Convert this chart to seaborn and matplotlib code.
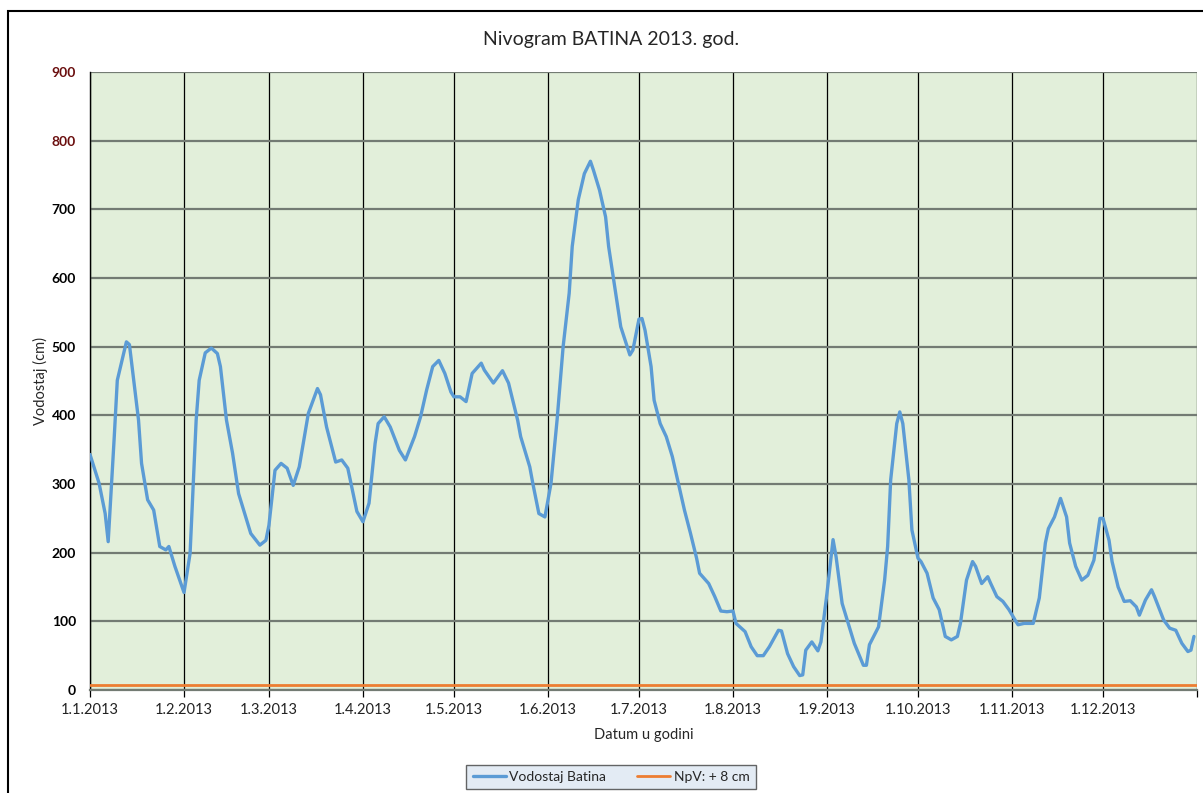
import matplotlib
matplotlib.use("Agg")
import matplotlib.pyplot as plt
import matplotlib.dates as mdates
from matplotlib.patches import Rectangle
import numpy as np
import pandas as pd
import seaborn as sns

# ---- data ----
day_offsets = [0, 3, 5, 6, 8, 9, 12, 13, 16, 17, 19, 21, 23, 25, 26, 28, 31, 33, 35, 36,
               38, 40, 42, 43, 45, 47, 49, 53, 56, 58, 59, 61, 63, 65, 67, 69, 72, 75, 76, 78,
               81, 83, 85, 88, 90, 92, 94, 95, 97, 99, 102, 104, 107, 109, 111, 113, 115, 117, 119, 120,
               122, 124, 126, 129, 130, 133, 136, 138, 141, 142, 145, 146, 148, 150, 152, 154, 156, 158, 159, 161,
               163, 165, 166, 168, 170, 171, 173, 175, 178, 179, 181, 182, 183, 185, 186, 188, 190, 192, 194, 196,
               198, 200, 201, 204, 206, 208, 210, 212, 213, 216, 218, 220, 222, 224, 227, 228, 230, 232, 234, 235,
               236, 238, 240, 241, 243, 245, 246, 248, 250, 252, 255, 256, 257, 260, 262, 263, 264, 266, 267, 268,
               270, 271, 273, 274, 276, 278, 280, 282, 284, 286, 287, 289, 291, 292, 294, 296, 297, 299, 301, 303,
               305, 306, 308, 311, 313, 315, 316, 318, 320, 322, 323, 325, 327, 329, 331, 333, 334, 336, 337, 339,
               341, 343, 345, 346, 348, 350, 351, 354, 356, 358, 360, 362, 363, 364]
vodostaj = [343, 301, 257, 216, 369, 451, 507, 503, 393, 330, 277, 262, 209, 204, 209, 180, 142, 199, 393, 451,
            491, 498, 490, 471, 393, 345, 286, 228, 211, 218, 240, 320, 330, 323, 298, 325, 403, 439, 430, 383,
            332, 335, 323, 260, 245, 272, 359, 388, 398, 383, 349, 335, 369, 398, 437, 471, 480, 461, 434, 427,
            427, 420, 461, 476, 466, 447, 465, 447, 393, 369, 325, 301, 257, 252, 301, 393, 500, 578, 646, 714,
            752, 770, 757, 728, 689, 646, 587, 529, 488, 495, 540, 541, 524, 471, 422, 388, 369, 340, 301, 262,
            228, 192, 170, 155, 136, 115, 114, 115, 97, 85, 63, 50, 50, 63, 87, 86, 53, 34, 21, 22,
            58, 70, 57, 70, 141, 219, 194, 126, 97, 68, 36, 36, 66, 92, 160, 209, 306, 388, 405, 388,
            306, 233, 192, 187, 170, 134, 117, 78, 73, 78, 97, 160, 187, 180, 155, 165, 155, 136, 129, 117,
            102, 95, 97, 97, 134, 214, 235, 252, 279, 252, 214, 180, 160, 167, 189, 250, 250, 218, 187, 150,
            129, 130, 121, 109, 131, 146, 136, 102, 90, 87, 68, 56, 58, 78]
npv_level = 8
month_labels = ["1.1.2013", "1.2.2013", "1.3.2013", "1.4.2013", "1.5.2013", "1.6.2013",
                "1.7.2013", "1.8.2013", "1.9.2013", "1.10.2013", "1.11.2013", "1.12.2013", ""]
y_ticks = [0, 100, 200, 300, 400, 500, 600, 700, 800, 900]
title = "Nivogram BATINA 2013. god."
series_name = "Vodostaj Batina"
npv_name = "NpV: + 8 cm"

start = pd.Timestamp("2013-01-01")
dates = start + pd.to_timedelta(day_offsets, unit="D")
df = pd.DataFrame({"Datum": dates, "Vodostaj": vodostaj})
month_ticks = pd.date_range("2013-01-01", "2014-01-01", freq="MS")
df_npv = pd.DataFrame({"Datum": [month_ticks[0], month_ticks[-1]], "Vodostaj": [npv_level, npv_level]})

# ---- style ----
sns.set_style("white")
plt.rcParams["font.family"] = ["Lato", "DejaVu Sans"]

W, H = 1203, 793
fig = plt.figure(figsize=(W / 100, H / 100), dpi=100)
ax = fig.add_axes([90 / W, 1 - 690 / H, (1197 - 90) / W, (690 - 72) / H])
ax.set_facecolor("#e2efda")

sns.lineplot(data=df, x="Datum", y="Vodostaj", ax=ax, color="#5b9bd5", linewidth=2.4,
             label=series_name, zorder=4)
sns.lineplot(data=df_npv, x="Datum", y="Vodostaj", ax=ax, color="#ed7d31", linewidth=2.0,
             label=npv_name, zorder=3)

ax.set_xlim(month_ticks[0], month_ticks[-1])
ax.set_ylim(0, 900)
ax.set_yticks(y_ticks)
ax.set_yticklabels([str(v) for v in y_ticks], fontsize=10, fontweight="bold")
for lbl, v in zip(ax.get_yticklabels(), y_ticks):
    lbl.set_color("#6b0f0f" if v >= 800 else "black")
ax.set_xticks(month_ticks)
ax.set_xticklabels(month_labels, fontsize=10.5, color="#222222")

ax.grid(axis="y", color="#737b73", linewidth=1.6, zorder=1)
ax.grid(axis="x", color="black", linewidth=0.9, zorder=1)
ax.set_axisbelow(True)
ax.tick_params(axis="y", length=0, pad=10)
ax.tick_params(axis="x", length=5, width=0.9, color="black", direction="out", pad=4, bottom=True)

for side in ["top", "right"]:
    ax.spines[side].set_visible(False)
ax.spines["left"].set_color("black")
ax.spines["left"].set_linewidth(1.0)
ax.spines["bottom"].set_color("#737b73")
ax.spines["bottom"].set_linewidth(1.6)

ax.set_xlabel("Datum u godini", fontsize=10.5, labelpad=8)
ax.set_ylabel("Vodostaj (cm)", fontsize=10.5, labelpad=3)
fig.text(611 / W, 1 - 40 / H, title, ha="center", va="center", fontsize=14)

ax.get_legend().remove()
handles, labels = ax.get_legend_handles_labels()
leg = fig.legend(handles, labels, loc="center", bbox_to_anchor=(611 / W, 1 - 777 / H), ncol=2,
                 frameon=True, fancybox=False, fontsize=10, handlelength=2.4, columnspacing=2.2,
                 borderpad=0.45, handletextpad=0.25, borderaxespad=0)
leg.get_frame().set_facecolor("#dce6f2")
leg.get_frame().set_edgecolor("#404040")
leg.get_frame().set_linewidth(1.0)

fig.patches.append(Rectangle((8 / W, -0.1), 1.2, 1.1 - 11 / H, transform=fig.transFigure,
                             fill=False, edgecolor="black", linewidth=1.5))

fig.savefig("out.png", dpi=100, facecolor="white")
